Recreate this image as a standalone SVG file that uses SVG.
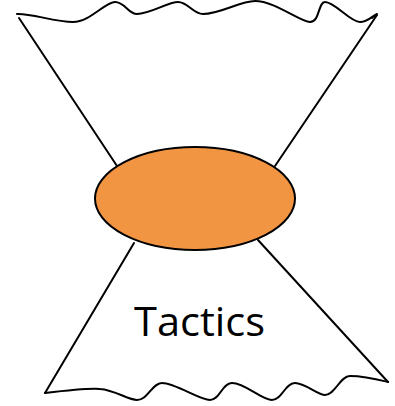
<svg xmlns="http://www.w3.org/2000/svg" width="395" height="406" viewBox="0 0 395 406">
<style>
.ln{fill:none;stroke:#000;stroke-width:2;stroke-linejoin:round;stroke-linecap:round}
</style>
<rect width="395" height="406" fill="#fff"/>
<g id="connectors">
<path class="ln" d="M17,14 C30,13 55,22 73,22 C90,22 105,2 115,2 C125,2 128,14 137,14 C150,14 168,2 178,2 C188,2 193,14 203,14 C220,14 240,1 255,1 C275,1 300,22 310,22 C320,22 318,2 325,2 C335,2 350,22 360,22 C368,22 372,16 377,14 L372,18"/>
<path class="ln" d="M19,18 L117,166"/>
<path class="ln" d="M377,15 L275,166"/>
<path class="ln" d="M45,393 L134,243"/>
<path class="ln" d="M388,382 L258,240"/>
<path class="ln" d="M45,393 C70,390 90,388 100,389 C115,390 128,400 137,400 C148,400 152,383 162,383 C175,383 200,400 210,400 C220,400 222,383 232,383 C245,383 262,400 272,400 C282,400 285,383 295,383 C305,383 318,395 325,395 C335,395 340,376 350,376 C365,376 380,380 388,382"/>
</g>
<g id="ellipse">
<ellipse cx="195" cy="198.5" rx="100" ry="51.5" fill="#f29543" stroke="#000" stroke-width="2"/>
</g>
<g id="label">
<text x="199.5" y="336" font-family="'Open Sans','Liberation Sans',sans-serif" font-size="41" text-anchor="middle" textLength="131" lengthAdjust="spacingAndGlyphs">Tactics</text>
</g>
</svg>
